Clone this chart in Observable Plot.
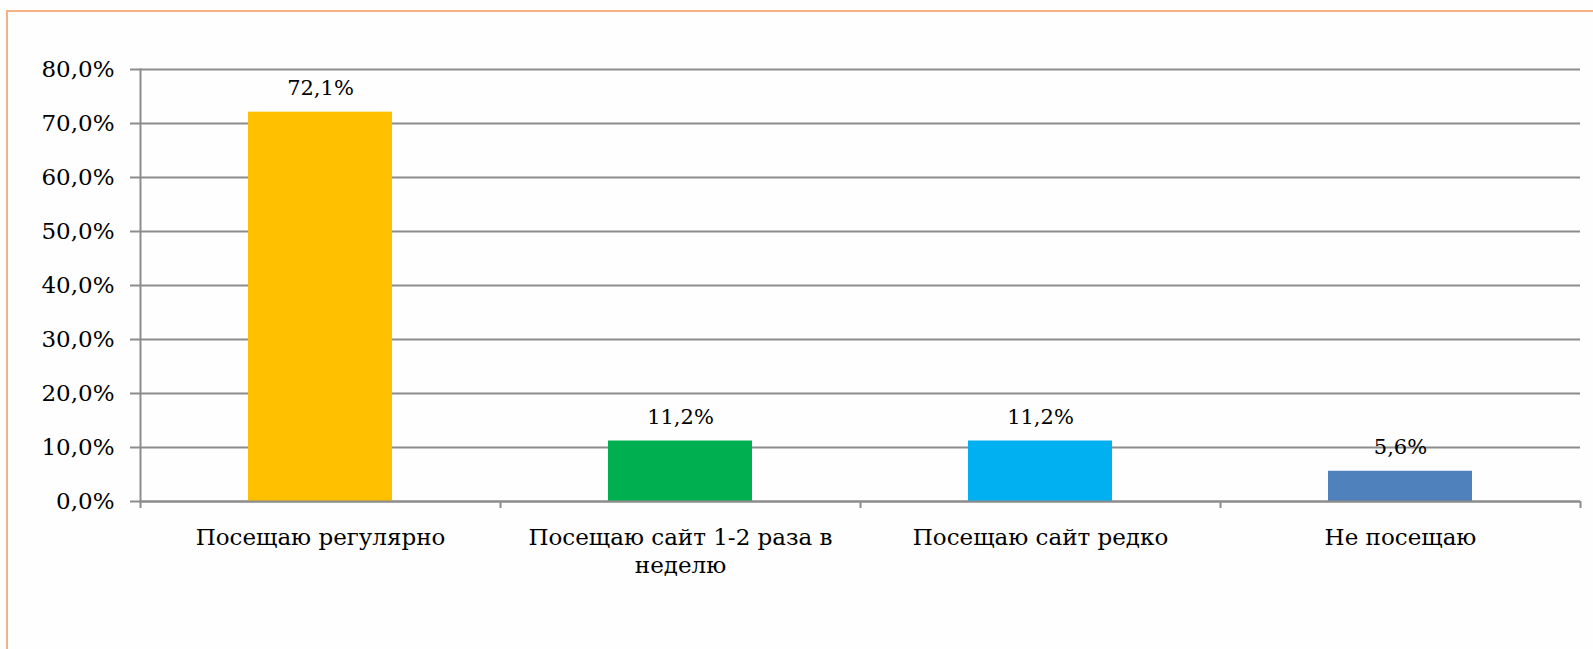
<!DOCTYPE html>
<html>
<head>
<meta charset="utf-8">
<script src="https://cdn.jsdelivr.net/npm/d3@7"></script>
<script src="https://cdn.jsdelivr.net/npm/@observablehq/plot@0.6"></script>
<style>
  html, body { margin: 0; padding: 0; background: #ffffff; }
  #wrap { position: relative; width: 1593px; height: 649px; overflow: hidden; background: #fefefe; }
  #border { position: absolute; left: 6px; top: 10px; width: 1700px; height: 800px; border-left: 2px solid #f4b183; border-top: 2px solid #f4b183; }
  #chart { position: absolute; left: 0; top: 0; }
</style>
</head>
<body>
<div id="wrap"><div id="border"></div><div id="chart"></div></div>
<script>
const categories = ["Посещаю регулярно", "Посещаю сайт 1-2 раза в неделю", "Посещаю сайт редко", "Не посещаю"];
const categoryLabels = ["Посещаю регулярно", "Посещаю сайт 1-2 раза в\nнеделю", "Посещаю сайт редко", "Не посещаю"];
const values = [72.1, 11.2, 11.2, 5.6];
const colors = ["#FFC000", "#00B050", "#00B0F0", "#4F81BD"];
const yTicks = [0, 10, 20, 30, 40, 50, 60, 70, 80];

const data = categories.map((c, i) => ({category: c, value: values[i], color: colors[i]}));
const fmtPct = v => v.toFixed(1).replace(".", ",") + "%";
const labelOf = Object.fromEntries(categories.map((c, i) => [c, categoryLabels[i]]));

const chart = Plot.plot({
  width: 1593,
  height: 649,
  marginLeft: 140,
  marginRight: 13,
  marginTop: 69,
  marginBottom: 148,
  style: {background: "transparent", color: "#000"},
  x: {domain: categories, padding: 0, label: null},
  y: {domain: [0, 80], label: null},
  marks: [
    Plot.ruleY(yTicks, {stroke: "#8c8c8c", strokeWidth: 2}),
    Plot.axisY({ticks: yTicks, tickFormat: fmtPct, tickSize: 10, tickPadding: 16, stroke: "#8c8c8c", strokeWidth: 2,
      fontFamily: "DejaVu Serif", fontSize: 23, fill: "#000", label: null}),
    Plot.frame({anchor: "left", stroke: "#8c8c8c", strokeWidth: 2}),
    Plot.barY(data, {x: "category", y: "value", fill: "color", insetLeft: 108, insetRight: 108}),
    Plot.ruleY([0], {stroke: "#8c8c8c", strokeWidth: 2}),
    Plot.ruleX(categories, {x: d => d, dx: -180, y1: 0, y2: 0, insetBottom: -7, stroke: "#8c8c8c", strokeWidth: 2}),
    Plot.ruleX(categories.slice(-1), {x: d => d, dx: 180, y1: 0, y2: 0, insetBottom: -7, stroke: "#8c8c8c", strokeWidth: 2}),
    Plot.text(data, {x: "category", y: "value", text: d => fmtPct(d.value), dy: -17, lineAnchor: "bottom",
      fontFamily: "DejaVu Serif", fontSize: 21, fill: "#000"}),
    Plot.axisX({tickSize: 0, tickPadding: 24, tickFormat: d => labelOf[d], fontFamily: "DejaVu Serif",
      fontSize: 23, lineHeight: 1.2, fill: "#000", label: null})
  ]
});
document.getElementById("chart").appendChild(chart);
</script>
</body>
</html>
